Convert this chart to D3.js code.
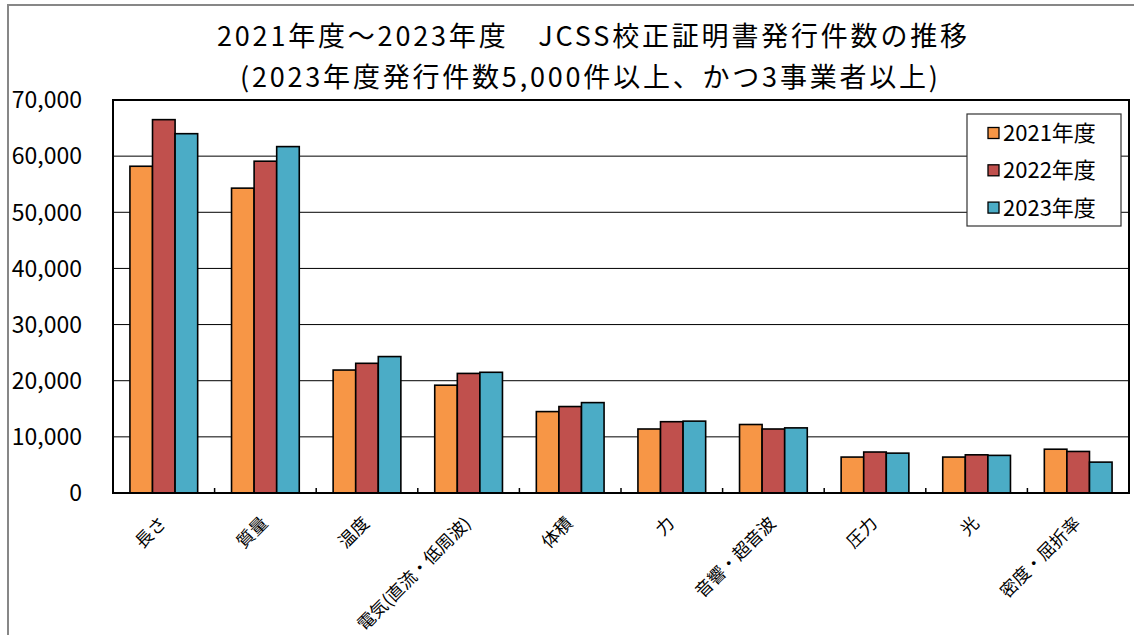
<!DOCTYPE html>
<html>
<head>
<meta charset="utf-8">
<script src="https://cdn.jsdelivr.net/npm/d3@7"></script>
<style>
  body { margin: 0; background: #fff; }
  text { font-family: "Noto Sans CJK JP", "Noto Sans", sans-serif; fill: #000; }
</style>
</head>
<body>
<script>
// 分野ごとの発行件数
const categories = ["長さ", "質量", "温度", "電気(直流・低周波)", "体積", "力", "音響・超音波", "圧力", "光", "密度・屈折率"];
const seriesNames = ["2021年度", "2022年度", "2023年度"];
const v2021 = [58200, 54300, 21900, 19200, 14500, 11400, 12200, 6400, 6400, 7800];
const v2022 = [66500, 59100, 23100, 21300, 15400, 12700, 11400, 7300, 6800, 7400];
const v2023 = [64000, 61700, 24300, 21500, 16100, 12800, 11600, 7100, 6700, 5500];
const yTicks = [0, 10000, 20000, 30000, 40000, 50000, 60000, 70000];
const colors = ["#F79646", "#C0504D", "#4BACC6"];

const width = 1134, height = 635;
const plot = {left: 113, right: 1129, top: 100, bottom: 493};

const svg = d3.select("body").append("svg")
    .attr("width", width)
    .attr("height", height);

// 外枠
svg.append("rect")
    .attr("x", 8).attr("y", 5)
    .attr("width", 1200).attr("height", 700)
    .style("fill", "none")
    .style("stroke", "#878787")
    .style("stroke-width", 2);

// タイトル
const title = svg.append("g").attr("class", "title");
title.append("text")
    .attr("x", 217).attr("y", 46)
    .attr("textLength", 750).attr("lengthAdjust", "spacing")
    .style("font-size", "27px")
    .text("2021年度～2023年度　JCSS校正証明書発行件数の推移");
title.append("text")
    .attr("x", 240).attr("y", 87)
    .attr("textLength", 698).attr("lengthAdjust", "spacing")
    .style("font-size", "27px")
    .text("(2023年度発行件数5,000件以上、かつ3事業者以上)");

const x = d3.scaleBand()
    .domain(categories)
    .range([plot.left, plot.right])
    .paddingInner(1 / 3)
    .paddingOuter(1 / 6);

const xs = d3.scaleBand()
    .domain(seriesNames)
    .range([0, x.bandwidth()]);

const y = d3.scaleLinear()
    .domain([0, 70000])
    .range([plot.bottom, plot.top]);

// グリッド線
svg.append("g")
    .selectAll("line")
    .data(yTicks)
    .enter()
    .append("line")
    .attr("x1", plot.left).attr("x2", plot.right)
    .attr("y1", d => y(d)).attr("y2", d => y(d))
    .style("stroke", "#000")
    .style("stroke-width", 1);

// 目盛ラベル
svg.append("g")
    .selectAll("text")
    .data(yTicks)
    .enter()
    .append("text")
    .attr("x", 82)
    .attr("y", d => y(d))
    .attr("dy", "0.36em")
    .attr("text-anchor", "end")
    .style("font-size", "23px")
    .text(d => d3.format(",")(d));

// 棒
const table = categories.map((c, i) => ({cat: c, vals: [v2021[i], v2022[i], v2023[i]]}));
const groups = svg.append("g")
    .selectAll("g")
    .data(table)
    .enter()
    .append("g")
    .attr("transform", d => `translate(${x(d.cat)},0)`);

groups.selectAll("rect")
    .data(d => d.vals.map((v, j) => ({name: seriesNames[j], v: v, j: j})))
    .enter()
    .append("rect")
    .attr("x", d => xs(d.name))
    .attr("y", d => y(d.v))
    .attr("width", xs.bandwidth())
    .attr("height", d => y(0) - y(d.v))
    .style("fill", d => colors[d.j])
    .style("stroke", "#000")
    .style("stroke-width", 1.6);

// プロットエリア枠
svg.append("rect")
    .attr("x", plot.left).attr("y", plot.top)
    .attr("width", plot.right - plot.left)
    .attr("height", plot.bottom - plot.top)
    .style("fill", "none")
    .style("stroke", "#000")
    .style("stroke-width", 2);

// 区切りの目盛
svg.append("g")
    .selectAll("line")
    .data(d3.range(1, categories.length))
    .enter()
    .append("line")
    .attr("x1", i => plot.left + i * x.step())
    .attr("x2", i => plot.left + i * x.step())
    .attr("y1", plot.bottom).attr("y2", plot.bottom - 5)
    .style("stroke", "#000")
    .style("stroke-width", 1.5);

// 項目ラベル
svg.append("g")
    .selectAll("text")
    .data(categories)
    .enter()
    .append("text")
    .attr("transform", d => `translate(${x(d) + x.bandwidth() / 2 - 1},520) rotate(-45)`)
    .attr("dy", "0.36em")
    .attr("text-anchor", "end")
    .style("font-size", "17.5px")
    .text(d => d);

// 凡例
const legend = svg.append("g").attr("transform", "translate(967,114)");
legend.append("rect")
    .attr("width", 154).attr("height", 112)
    .style("fill", "#fff")
    .style("stroke", "#333")
    .style("stroke-width", 1.2);
const items = legend.selectAll("g.item")
    .data(seriesNames)
    .enter()
    .append("g")
    .attr("class", "item")
    .attr("transform", (d, i) => `translate(0,${19 + i * 37.3})`);
items.append("rect")
    .attr("x", 21).attr("y", -5.5)
    .attr("width", 11).attr("height", 11)
    .style("fill", (d, i) => colors[i])
    .style("stroke", "#000")
    .style("stroke-width", 1.3);
items.append("text")
    .attr("x", 36)
    .attr("dy", "0.36em")
    .style("font-size", "22px")
    .text(d => d);
</script>
</body>
</html>
